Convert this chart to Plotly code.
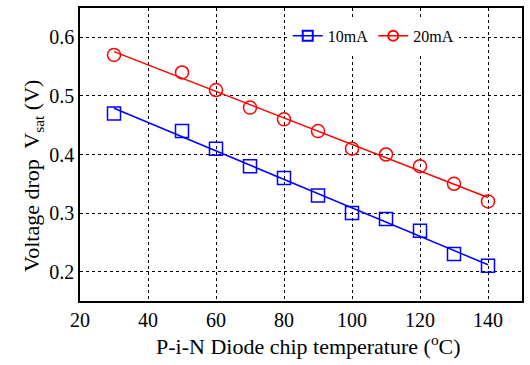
import numpy as np
import plotly.graph_objects as go

temps = [30, 50, 60, 70, 80, 90, 100, 110, 120, 130, 140]
v_10mA = [0.47, 0.44, 0.41, 0.38, 0.36, 0.33, 0.30, 0.29, 0.27, 0.23, 0.21]
v_20mA = [0.57, 0.54, 0.51, 0.48, 0.46, 0.44, 0.41, 0.40, 0.38, 0.35, 0.32]

x_ticks = [20, 40, 60, 80, 100, 120, 140]
y_ticks = [0.2, 0.3, 0.4, 0.5, 0.6]

x_title = "P-i-N Diode chip temperature (<sup>o</sup>C)"
y_title = "Voltage drop  V<sub>sat</sub> (V)"

FONT = "Liberation Serif"

fig = go.Figure()

series = [("10mA", v_10mA, "#0000ff", "square-open"),
          ("20mA", v_20mA, "#ff0000", "circle-open")]

xfit = np.array([min(temps), max(temps)])
for name, vals, color, sym in series:
    k, b = np.polyfit(temps, vals, 1)
    fig.add_trace(go.Scatter(
        x=xfit, y=k * xfit + b, mode="lines",
        line=dict(color=color, width=1.5), showlegend=False, hoverinfo="skip"))
    fig.add_trace(go.Scatter(
        x=temps, y=vals, mode="markers", name=name, showlegend=False,
        marker=dict(symbol=sym, size=13, color=color, line=dict(width=1.5, color=color))))

# legend entries with line+marker
for name, vals, color, sym in series:
    fig.add_trace(go.Scatter(
        x=[None], y=[None], mode="lines+markers", name=name,
        line=dict(color=color, width=1.5),
        marker=dict(symbol=sym, size=10, color=color, line=dict(width=2, color=color))))

axis_common = dict(
    showline=True, linecolor="black", linewidth=1.5, mirror=True,
    showgrid=True, gridcolor="black", griddash="dot", gridwidth=1,
    zeroline=False, ticks="", tickfont=dict(family=FONT, size=20, color="black"),
)

fig.update_xaxes(range=[20, 150], tickvals=x_ticks, ticktext=[str(t) for t in x_ticks],
                 **axis_common)
fig.update_yaxes(range=[0.15, 0.65], tickvals=y_ticks, ticktext=[f"{t:.1f}" for t in y_ticks],
                 **axis_common)

fig.add_annotation(text=x_title, xref="paper", yref="paper", x=0.516, y=-0.149,
                   xanchor="center", yanchor="middle", showarrow=False,
                   font=dict(family=FONT, size=22, color="black"))
fig.add_annotation(text=y_title, xref="paper", yref="paper", x=0, y=0.427,
                   xanchor="center", yanchor="middle", xshift=-47, textangle=-90,
                   showarrow=False, font=dict(family=FONT, size=22, color="black"))

fig.update_layout(
    width=530, height=365,
    margin=dict(l=80, r=8, t=6, b=64),
    plot_bgcolor="white", paper_bgcolor="white",
    font=dict(family=FONT, color="black"),
    legend=dict(orientation="h", x=0.47, y=0.905, xanchor="left", yanchor="middle",
                bgcolor="white", borderwidth=0,
                font=dict(family=FONT, size=16, color="black"),
                itemwidth=30, tracegroupgap=0),
)

fig.write_html("out.html")
